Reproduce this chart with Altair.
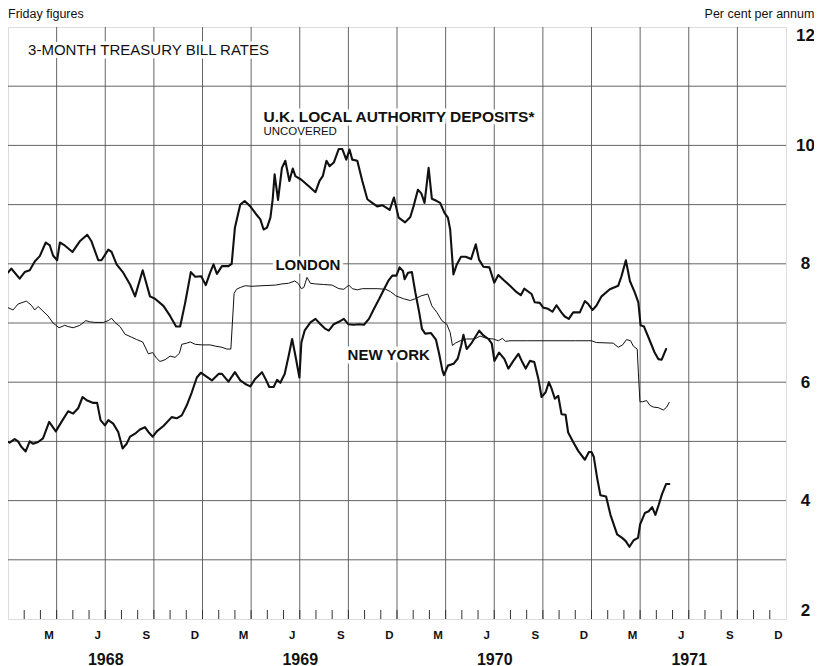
import altair as alt
import pandas as pd

FONT = "Liberation Sans"

# ---- data (x = months since 1 Jan 1968, y = per cent per annum) ----
ukla_month = [0, 0.2, 0.72, 1.03, 1.34, 1.65, 1.96, 2.33, 2.58, 2.78, 3.03, 3.2, 3.5, 3.98, 4.43, 4.89,
              5.15, 5.57, 5.77, 6.19, 6.39, 6.7, 7.11, 7.53, 7.84, 8.31, 8.76, 9.07, 9.59, 10.0, 10.37,
              10.62, 10.93, 11.28, 11.55, 11.92, 12.2, 12.47, 12.68, 12.89, 13.2, 13.6, 13.8, 14.0, 14.33,
              14.6, 14.95, 15.36, 15.57, 15.77, 15.98, 16.19, 16.33, 16.45, 16.66, 16.9, 17.11, 17.36,
              17.57, 17.73, 18.1, 18.56, 18.97, 19.22, 19.42, 19.65, 19.84, 20.1, 20.41, 20.62, 20.87,
              21.07, 21.24, 21.55, 21.86, 22.17, 22.47, 22.78, 23.09, 23.55, 23.81, 24.1, 24.5, 24.82,
              25.02, 25.29, 25.5, 25.7, 25.95, 26.15, 26.46, 26.66, 26.93, 27.14, 27.28, 27.48, 27.69,
              27.95, 28.24, 28.57, 28.86, 29.06, 29.33, 29.7, 30.0, 30.25, 30.56, 30.97, 31.38, 31.64,
              31.85, 32.3, 32.5, 32.81, 33.02, 33.32, 33.59, 33.84, 34.14, 34.35, 34.6, 34.87, 35.28,
              35.59, 35.8, 36.06, 36.3, 36.62, 37.13, 37.65, 37.85, 38.12, 38.37, 38.68, 38.89, 39.03,
              39.24, 39.6, 39.88, 40.12, 40.33, 40.6]
ukla_rate = [7.85, 7.92, 7.75, 7.86, 7.89, 8.04, 8.13, 8.36, 8.31, 8.14, 8.06, 8.36, 8.31, 8.2, 8.38, 8.49,
             8.38, 8.06, 8.06, 8.24, 8.2, 7.99, 7.85, 7.65, 7.45, 7.89, 7.45, 7.41, 7.29, 7.12, 6.94,
             6.94, 7.34, 7.86, 7.78, 7.79, 7.64, 7.85, 7.99, 7.83, 7.96, 7.96, 8.0, 8.61, 9.0,
             9.06, 8.97, 8.82, 8.75, 8.58, 8.61, 8.78, 9.09, 9.51, 9.08, 9.62, 9.74, 9.4,
             9.61, 9.48, 9.42, 9.31, 9.21, 9.4, 9.48, 9.74, 9.65, 9.71, 9.94, 9.94, 9.76,
             9.93, 9.76, 9.74, 9.4, 9.09, 9.03, 8.97, 8.99, 8.91, 9.12, 8.78, 8.7, 8.79,
             8.97, 9.25, 9.19, 9.03, 9.62, 9.1, 9.06, 9.03, 8.86, 8.78, 8.58, 7.82, 7.99,
             8.12, 8.12, 8.08, 8.33, 8.07, 7.95, 7.94, 7.68, 7.81, 7.73, 7.63, 7.52, 7.47,
             7.58, 7.49, 7.35, 7.34, 7.26, 7.24, 7.19, 7.3, 7.18, 7.11, 7.07, 7.18, 7.18,
             7.37, 7.32, 7.22, 7.29, 7.45, 7.57, 7.63, 7.79, 8.06, 7.71, 7.51, 7.35, 6.96,
             6.94, 6.7, 6.51, 6.39, 6.38, 6.56]

london_month = [0, 0.31, 0.62, 1.13, 1.44, 1.65, 1.86, 2.16, 2.47, 2.78, 3.15, 3.5, 3.71, 4.02, 4.43, 4.8,
                5.05, 5.36, 5.88, 6.19, 6.39, 6.6, 6.91, 7.22, 7.63, 7.94, 8.31, 8.66, 8.93, 9.18, 9.38,
                9.69, 10.0, 10.31, 10.58, 10.72, 11.03, 11.24, 11.55, 11.96, 12.47, 12.78, 13.2, 13.5,
                13.75, 13.95, 14.1, 14.33, 14.64, 15.05, 15.67, 16.5, 16.9, 17.3, 17.69, 17.9, 18.1,
                18.25, 18.45, 18.66, 18.97, 19.48, 20.0, 20.41, 20.72, 21.03, 21.24, 21.55, 21.86,
                22.27, 22.78, 23.3, 23.6, 23.92, 24.4, 24.82, 25.13, 25.5, 25.9, 26.15, 26.46, 26.77,
                27.07, 27.28, 27.42, 27.6, 27.9, 28.3, 28.8, 29.12, 29.53, 29.94, 30.25, 30.5, 30.7,
                30.97, 32.0, 33.0, 34.0, 35.0, 36.0, 36.3, 37.34, 37.65, 37.92, 38.16, 38.41, 38.58,
                38.82, 38.89, 38.99, 39.15, 39.4, 39.6, 39.81, 40.12, 40.43, 40.64, 40.8]
london_rate = [7.26, 7.22, 7.32, 7.37, 7.3, 7.22, 7.28, 7.2, 7.12, 7.0, 6.92, 6.96, 6.94, 6.92, 6.96, 7.04,
               7.02, 7.01, 7.01, 7.04, 7.08, 7.01, 6.94, 6.81, 6.76, 6.72, 6.68, 6.48, 6.5, 6.4, 6.35,
               6.38, 6.44, 6.42, 6.49, 6.64, 6.66, 6.68, 6.64, 6.63, 6.63, 6.61, 6.59, 6.56,
               6.56, 7.5, 7.57, 7.6, 7.63, 7.62, 7.63, 7.64, 7.66, 7.67, 7.71, 7.67, 7.58,
               7.6, 7.77, 7.67, 7.66, 7.65, 7.64, 7.58, 7.57, 7.64, 7.58, 7.56, 7.58,
               7.58, 7.58, 7.57, 7.53, 7.46, 7.41, 7.38, 7.41, 7.46, 7.49, 7.29, 7.18, 7.04,
               6.98, 6.84, 6.62, 6.66, 6.7, 6.73, 6.73, 6.78, 6.74, 6.73, 6.7, 6.74, 6.69,
               6.7, 6.7, 6.7, 6.7, 6.7, 6.7, 6.67, 6.66, 6.59, 6.63, 6.72, 6.7, 6.61,
               6.56, 6.17, 5.67, 5.67, 5.69, 5.61, 5.58, 5.57, 5.53, 5.58, 5.66]

ny_month = [0, 0.1, 0.41, 0.62, 0.82, 1.09, 1.34, 1.55, 1.86, 2.16, 2.54, 2.95, 3.3, 3.71, 4.02, 4.33,
            4.6, 4.89, 5.26, 5.5, 5.71, 5.98, 6.19, 6.49, 6.8, 7.07, 7.32, 7.53, 7.84, 8.14, 8.45, 8.66,
            8.93, 9.18, 9.59, 10.1, 10.41, 10.72, 11.03, 11.34, 11.65, 11.9, 12.16, 12.58, 12.99, 13.2,
            13.6, 14.0, 14.33, 14.64, 14.95, 15.26, 15.67, 15.88, 16.12, 16.39, 16.6, 16.8, 17.07,
            17.32, 17.53, 17.73, 17.98, 18.1, 18.3, 18.66, 18.97, 19.28, 19.59, 19.79, 20.1, 20.41,
            20.72, 20.99, 21.34, 21.65, 21.96, 22.27, 22.58, 22.89, 23.2, 23.46, 23.71, 23.96, 24.16,
            24.37, 24.47, 24.68, 24.92, 25.13, 25.37, 25.54, 25.74, 26.1, 26.4, 26.6, 26.8, 26.9,
            27.14, 27.49, 27.75, 27.96, 28.1, 28.3, 28.62, 29.07, 29.33, 29.64, 29.85, 30.01, 30.3,
            30.63, 30.87, 31.18, 31.49, 31.73, 31.94, 32.2, 32.47, 32.72, 32.92, 33.17, 33.37, 33.54,
            33.74, 33.95, 34.15, 34.4, 34.56, 34.87, 35.18, 35.59, 35.84, 36.0, 36.14, 36.35, 36.55,
            36.9, 37.17, 37.58, 37.89, 38.1, 38.34, 38.6, 38.87, 39.0, 39.29, 39.53, 39.74, 39.94,
            40.15, 40.35, 40.6, 40.8]
ny_rate = [4.99, 4.98, 5.04, 5.0, 4.91, 4.83, 5.0, 4.96, 4.99, 5.05, 5.33, 5.17, 5.33, 5.51, 5.47, 5.56,
           5.75, 5.69, 5.65, 5.65, 5.36, 5.27, 5.36, 5.3, 5.16, 4.88, 4.96, 5.08, 5.13, 5.2, 5.24, 5.16,
           5.08, 5.17, 5.26, 5.41, 5.39, 5.44, 5.61, 5.83, 6.08, 6.16, 6.11, 6.03, 6.14, 6.14,
           6.01, 6.17, 6.03, 5.97, 5.93, 6.06, 6.17, 6.06, 5.92, 5.92, 6.04, 5.99, 6.14,
           6.45, 6.73, 6.45, 6.08, 6.67, 6.87, 7.01, 7.07, 6.98, 6.9, 6.87, 6.98, 7.02,
           7.07, 6.98, 6.97, 6.98, 6.97, 7.07, 7.24, 7.4, 7.57, 7.71, 7.8, 7.8, 7.94,
           7.88, 7.74, 7.85, 7.86, 7.52, 7.18, 6.9, 6.82, 6.83, 6.72, 6.48, 6.2, 6.12,
           6.28, 6.31, 6.4, 6.62, 6.8, 6.56, 6.67, 6.87, 6.79, 6.73, 6.65, 6.36, 6.5,
           6.39, 6.23, 6.36, 6.48, 6.34, 6.23, 6.36, 6.34, 6.06, 5.75, 5.83, 6.0, 5.89,
           5.72, 5.77, 5.46, 5.45, 5.15, 4.99, 4.84, 4.69, 4.82, 4.82, 4.74, 4.38, 4.09,
           4.07, 3.76, 3.43, 3.37, 3.32, 3.22, 3.33, 3.37, 3.6, 3.79, 3.82, 3.89, 3.76,
           3.93, 4.11, 4.28, 4.28]

series_names = ["U.K. local authority deposits", "London", "New York"]

# axis / grid positions (months since Jan 1968)
month_label_pos = [12 * y + m + 0.5 for y in range(4) for m in (2, 5, 8, 11)]
month_letters = ["M", "J", "S", "D"]
year_label_pos = [6, 18, 30, 42]
quarter_grid = list(range(3, 48, 3))
month_ticks = list(range(1, 48))
rate_grid = list(range(3, 12))
rate_labels = [2, 4, 6, 8, 10, 12]

# annotations inside the plot (text, month position, rate position)
title_text = ["3-MONTH TREASURY BILL RATES"]
title_month = [1.24]
title_rate = [11.61]
big_bold_text = ["U.K. LOCAL AUTHORITY DEPOSITS*"]
big_bold_month = [15.76]
big_bold_rate = [10.48]
small_text = ["UNCOVERED"]
small_month = [15.76]
small_rate = [10.23]
series_label_text = ["LONDON", "NEW YORK"]
series_label_month = [16.5, 20.95]
series_label_rate = [7.98, 6.46]
# notes above the plot
corner_left_text = ["Friday figures"]
corner_left_month = [0.0]
corner_right_text = ["Per cent per annum"]
corner_right_month = [49.75]
corner_rate = [12.32]

# ---- build ----
W, H = 778, 592
INK = "#111111"
GRID = "#555555"

rows = []
for name, ms, rs in zip(series_names, [ukla_month, london_month, ny_month],
                        [ukla_rate, london_rate, ny_rate]):
    for m, r in zip(ms, rs):
        rows.append({"series": name, "month": m, "rate": r})
df = pd.DataFrame(rows)

xs = alt.Scale(domain=[0, 48], nice=False, zero=False)
ys = alt.Scale(domain=[2, 12], nice=False, zero=False)

letters_js = "[" + ",".join("'%s'" % s for s in month_letters) + "]"
month_axis = alt.Axis(
    orient="bottom", values=month_label_pos, title=None, ticks=False, domain=False, grid=False,
    labelExpr=letters_js + "[floor(((datum.value % 12) - 2.5) / 3 + 0.01)]",
    labelFontSize=11.5, labelFontWeight="bold", labelFont=FONT, labelColor=INK,
    labelPadding=10, labelFlush=False, labelOverlap=False,
)
year_axis = alt.Axis(
    orient="bottom", values=year_label_pos, title=None, ticks=False, domain=False, grid=False,
    labelExpr="'' + (1968 + floor(datum.value / 12))",
    labelFontSize=16, labelFontWeight="bold", labelFont=FONT, labelColor=INK,
    labelPadding=32, labelFlush=False, labelOverlap=False,
)
y_axis = alt.Axis(
    orient="right", values=rate_labels, title=None, ticks=False, domain=False, grid=False,
    labelFontSize=17, labelFontWeight="bold", labelFont=FONT, labelColor=INK,
    labelAlign="center", labelPadding=19, labelFlush=True, labelOverlap=False, format="d",
)

vgrid = alt.Chart(pd.DataFrame({"month": quarter_grid})).mark_rule(
    color=GRID, strokeWidth=0.9
).encode(x=alt.X("month:Q", scale=xs, axis=None))

hgrid = alt.Chart(pd.DataFrame({"rate": rate_grid})).mark_rule(
    color=GRID, strokeWidth=0.9
).encode(y=alt.Y("rate:Q", scale=ys, axis=None))

# carrier of the right-hand rate axis (invisible points at the labelled values)
yaxis_layer = alt.Chart(pd.DataFrame({"rate": rate_labels})).mark_point(opacity=0).encode(
    y=alt.Y("rate:Q", scale=ys, axis=y_axis),
)

ticks = alt.Chart(pd.DataFrame({"month": month_ticks})).mark_rule(
    color="#333333", strokeWidth=1
).encode(
    x=alt.X("month:Q", scale=xs, axis=year_axis),
    y=alt.value(H),
    y2=alt.value(H - 9),
)


def line_layer(name, width, axis):
    return alt.Chart(df).transform_filter(
        alt.datum.series == name
    ).mark_line(color=INK, strokeWidth=width, strokeJoin="round", strokeCap="round").encode(
        x=alt.X("month:Q", scale=xs, axis=axis),
        y=alt.Y("rate:Q", scale=ys, axis=None),
        order="month:Q",
    )


l_ukla = line_layer(series_names[0], 2.1, month_axis)
l_london = line_layer(series_names[1], 1.0, None)
l_ny = line_layer(series_names[2], 2.1, None)


def text_layer(texts, months, rates, size, weight="normal", align="left", baseline="middle", halo=False):
    d = pd.DataFrame({"text": texts, "month": months, "rate": rates})
    props = dict(align=align, baseline=baseline, fontSize=size, fontWeight=weight, font=FONT)
    if halo:
        props.update(color="white", stroke="white", strokeWidth=7, strokeJoin="round")
    else:
        props.update(color=INK)
    return alt.Chart(d).mark_text(**props).encode(
        x=alt.X("month:Q", scale=xs, axis=None),
        y=alt.Y("rate:Q", scale=ys, axis=None),
        text="text:N",
    )


annots = [
    (title_text, title_month, title_rate, 15, "normal"),
    (big_bold_text, big_bold_month, big_bold_rate, 15.5, "bold"),
    (small_text, small_month, small_rate, 11.5, "normal"),
    (series_label_text, series_label_month, series_label_rate, 15, "bold"),
]
halos = [text_layer(t, m, r, s, w, halo=True) for t, m, r, s, w in annots]
texts = [text_layer(t, m, r, s, w) for t, m, r, s, w in annots]
t_left = text_layer(corner_left_text, corner_left_month, corner_rate, 12.5, baseline="top")
t_right = text_layer(corner_right_text, corner_right_month, corner_rate, 12.5, align="right",
                     baseline="top")

chart = alt.layer(
    yaxis_layer, hgrid, vgrid, *halos, ticks, l_ukla, l_london, l_ny, *texts, t_left, t_right
).resolve_axis(
    x="independent", y="independent"
).properties(
    width=W, height=H,
    autosize=alt.AutoSizeParams(type="none"),
    padding={"left": 0, "top": 19, "right": 28, "bottom": 50},
    background="white",
).configure_view(
    stroke="#222222", strokeWidth=1.2
).configure(font=FONT)

chart.save("out.html", embed_options={"renderer": "svg", "actions": False})
